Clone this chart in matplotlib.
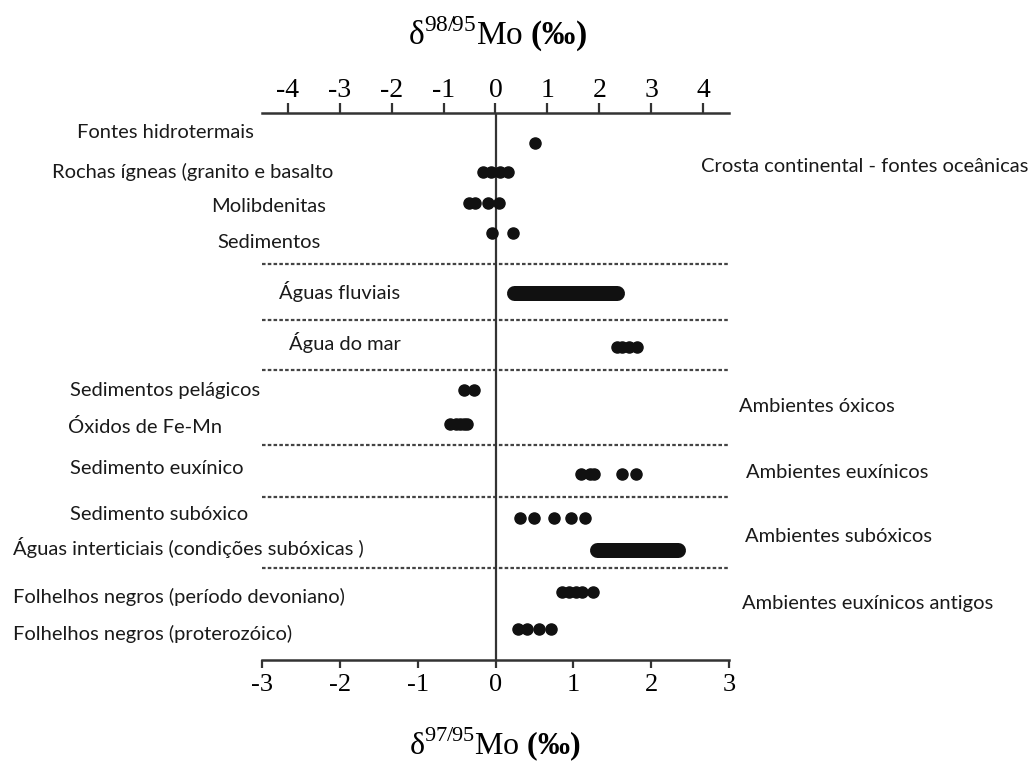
import matplotlib
matplotlib.use('Agg')
import matplotlib.pyplot as plt

# delta 97/95 Mo values (bottom axis)
fontes_hidrotermais = [0.51]
rochas_igneas = [-0.16, -0.06, 0.06, 0.16]
molibdenitas = [-0.34, -0.26, -0.09, 0.05]
sedimentos = [-0.05, 0.22]
aguas_fluviais = [0.24, 1.56]          # continuous range
agua_do_mar = [1.56, 1.62, 1.71, 1.82]
sed_pelagicos = [-0.41, -0.27]
oxidos_femn = [-0.59, -0.51, -0.46, -0.41, -0.36]
sed_euxinico = [1.10, 1.22, 1.26, 1.63, 1.81]
sed_suboxico = [0.32, 0.50, 0.75, 0.97, 1.15]
aguas_intersticiais = [1.31, 2.35]     # continuous range
folhelhos_devoniano = [0.86, 0.94, 1.03, 1.11, 1.25]
folhelhos_proterozoico = [0.29, 0.41, 0.56, 0.71]

point_rows = [fontes_hidrotermais, rochas_igneas, molibdenitas, sedimentos,
              None, agua_do_mar, sed_pelagicos, oxidos_femn, sed_euxinico,
              sed_suboxico, None, folhelhos_devoniano, folhelhos_proterozoico]
range_rows = {4: aguas_fluviais, 10: aguas_intersticiais}

# row positions (pixels below top axis) and separators
row_y = [30, 59, 90, 120, 180, 234, 277, 311, 361, 405, 437, 479, 516]
sep_y = [151, 207, 257, 332, 384, 455]

left_labels = ['Fontes hidrotermais', 'Rochas ígneas (granito e basalto',
               'Molibdenitas', 'Sedimentos', 'Águas fluviais', 'Água do mar',
               'Sedimentos pelágicos', 'Óxidos de Fe-Mn', 'Sedimento euxínico',
               'Sedimento subóxico', 'Águas interticiais (condições subóxicas )',
               'Folhelhos negros (período devoniano)',
               'Folhelhos negros (proterozóico)']
left_pos = [(77, 133), (52, 172), (211, 206), (217, 242), (279, 292),
            (289, 343), (70, 391), (68, 427), (70, 468), (70, 514),
            (13, 548), (13, 597), (13, 634)]

right_labels = ['Crosta continental - fontes oceânicas', 'Ambientes óxicos',
                'Ambientes euxínicos', 'Ambientes subóxicos',
                'Ambientes euxínicos antigos']
right_pos = [(701, 166), (739, 406), (746, 472), (745, 537), (742, 604)]

top_ticks = [-4, -3, -2, -1, 0, 1, 2, 3, 4]
bottom_ticks = [-3, -2, -1, 0, 1, 2, 3]

W, H = 1035, 765
plt.rcParams['axes.unicode_minus'] = False
plt.rcParams['mathtext.fontset'] = 'custom'
plt.rcParams['mathtext.rm'] = 'Liberation Serif'
plt.rcParams['mathtext.bf'] = 'Liberation Serif:bold'

fig = plt.figure(figsize=(W / 100, H / 100), dpi=100)
ax = fig.add_axes([262 / W, 1 - 660 / H, (729 - 262) / W, (660 - 113) / H])
ax.set_xlim(-3, 3)
ax.set_ylim(547, 0)

ink = '#111111'
line_col = '#333333'

for i, vals in enumerate(point_rows):
    if vals is None:
        continue
    ax.plot(vals, [row_y[i]] * len(vals), 'o', color=ink, markersize=8,
            linestyle='none', zorder=3)
for i, rng in range_rows.items():
    ax.plot(rng, [row_y[i]] * 2, color=ink, linewidth=10.8,
            solid_capstyle='round', zorder=3)

for y in sep_y:
    ax.axhline(y, color='#444444', linewidth=1.6, linestyle=(0, (1.6, 1.0)))
ax.axvline(0, color=line_col, linewidth=1.6)

for s in ['left', 'right', 'top']:
    ax.spines[s].set_visible(False)
ax.spines['bottom'].set_linewidth(1.8)
ax.spines['bottom'].set_color(line_col)
ax.set_yticks([])
ax.set_xticks(bottom_ticks)
ax.tick_params(axis='x', direction='out', length=6, width=1.6, color=line_col,
               labelsize=19, pad=4)
for lab in ax.get_xticklabels():
    lab.set_fontfamily('Liberation Serif')

sec = ax.secondary_xaxis('top', functions=(lambda x: x * 1.5, lambda x: x / 1.5))
sec.set_xticks(top_ticks)
sec.spines['top'].set_linewidth(1.8)
sec.spines['top'].set_color(line_col)
sec.tick_params(axis='x', direction='out', length=7, width=1.6, color=line_col,
                labelsize=20, pad=0)
for lab in sec.get_xticklabels():
    lab.set_fontfamily('Liberation Serif')

fig.text(497 / W, 1 - 34 / H, r'δ$^{98/95}$Mo $\mathbf{(‰)}$',
         fontfamily='Liberation Serif', fontsize=24, ha='center', va='center')
fig.text(495 / W, 1 - 744 / H, r'δ$^{97/95}$Mo $\mathbf{(‰)}$',
         fontfamily='Liberation Serif', fontsize=23, ha='center', va='center')

for txt, (x, y) in zip(left_labels, left_pos):
    fig.text(x / W, 1 - y / H, txt, fontfamily='Lato', fontsize=14.5,
             color='#1a1a1a', ha='left', va='center')
for txt, (x, y) in zip(right_labels, right_pos):
    fig.text(x / W, 1 - y / H, txt, fontfamily='Lato', fontsize=14.5,
             color='#1a1a1a', ha='left', va='center')

fig.savefig('out.png', dpi=100)
